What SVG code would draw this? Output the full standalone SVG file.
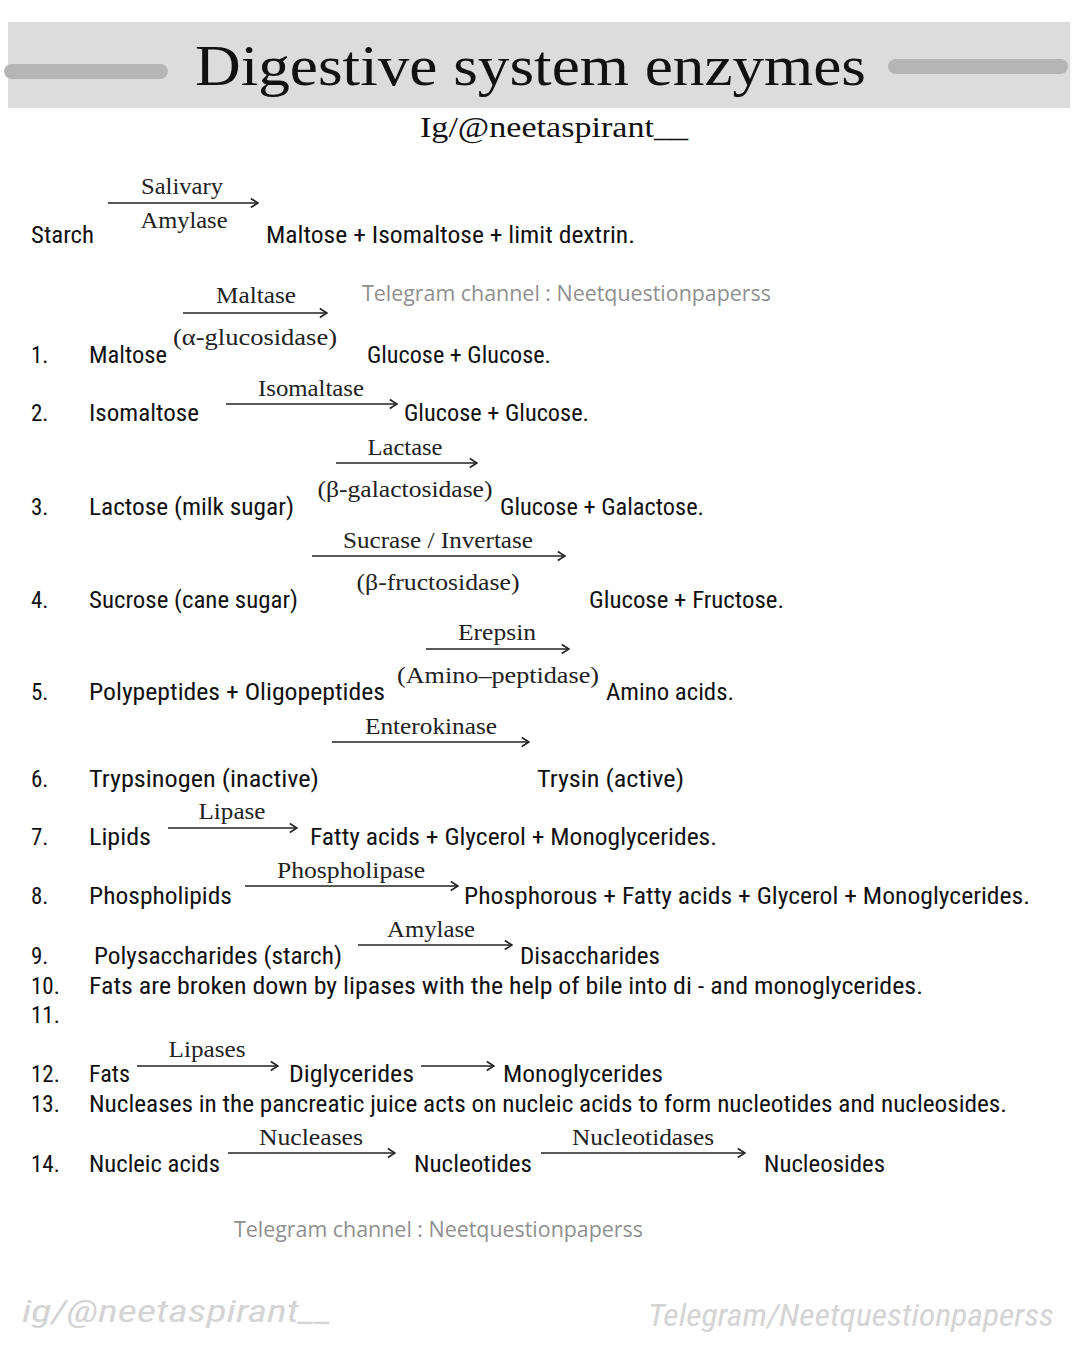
<svg xmlns="http://www.w3.org/2000/svg" width="1080" height="1350" viewBox="0 0 1080 1350">
<style>
.b{font-family:"Liberation Sans Narrow","Roboto Condensed","Liberation Sans",sans-serif;font-size:23px;fill:#111}
.s{font-family:"Liberation Serif","Times New Roman",serif;font-size:24px;fill:#222;text-anchor:middle}
.g{font-family:"Open Sans","Liberation Sans",sans-serif;font-size:21px;fill:#8f8f8f}
.w{font-family:"Liberation Sans Narrow","Roboto Condensed","Liberation Sans",sans-serif;font-style:italic;font-size:32px;fill:#d4d4d4}
.a{stroke:#222;stroke-width:1.7;fill:none;marker-end:url(#ah)}
</style>
<defs>
<marker id="ah" viewBox="0 0 10 12" refX="9" refY="6" markerWidth="9" markerHeight="12" markerUnits="userSpaceOnUse" orient="auto">
<path d="M1,1 L9,6 L1,11" fill="none" stroke="#222" stroke-width="1.8"/>
</marker>
</defs>
<rect width="1080" height="1350" fill="#fff"/>
<g id="header">
<rect x="8" y="22" width="1062" height="86" fill="#dcdcdc"/>
<rect x="4" y="64" width="164" height="15" rx="7.5" fill="#b5b5b5"/>
<rect x="888" y="59" width="180" height="15" rx="7.5" fill="#b5b5b5"/>
<text x="195" y="85" font-family="Liberation Serif,serif" font-size="56" fill="#111" textLength="671" lengthAdjust="spacingAndGlyphs">Digestive system enzymes</text>
<text x="420" y="137" font-family="Liberation Serif,serif" font-size="29" fill="#111" textLength="268" lengthAdjust="spacingAndGlyphs">Ig/@neetaspirant__</text>
</g>
<g id="connectors">
<line class="a" x1="108" y1="203" x2="258" y2="203"/>
<line class="a" x1="183" y1="313" x2="327" y2="313"/>
<line class="a" x1="226" y1="404" x2="397" y2="404"/>
<line class="a" x1="336" y1="463" x2="477" y2="463"/>
<line class="a" x1="312" y1="556" x2="565" y2="556"/>
<line class="a" x1="426" y1="649" x2="569" y2="649"/>
<line class="a" x1="332" y1="742" x2="529" y2="742"/>
<line class="a" x1="168" y1="828" x2="297" y2="828"/>
<line class="a" x1="245" y1="886" x2="458" y2="886"/>
<line class="a" x1="358" y1="945" x2="512" y2="945"/>
<line class="a" x1="137" y1="1066" x2="278" y2="1066"/>
<line class="a" x1="421" y1="1066" x2="494" y2="1066"/>
<line class="a" x1="228" y1="1153" x2="395" y2="1153"/>
<line class="a" x1="541" y1="1153" x2="745" y2="1153"/>
</g>
<g id="starch">
<text class="b" x="31" y="243" textLength="63" lengthAdjust="spacingAndGlyphs">Starch</text>
<text class="s" x="182" y="194" textLength="82" lengthAdjust="spacingAndGlyphs">Salivary</text>
<text class="s" x="184" y="228" textLength="87" lengthAdjust="spacingAndGlyphs">Amylase</text>
<text class="b" x="266" y="243" textLength="369" lengthAdjust="spacingAndGlyphs">Maltose + Isomaltose + limit dextrin.</text>
</g>
<text class="g" x="362" y="301" textLength="409" lengthAdjust="spacingAndGlyphs">Telegram channel : Neetquestionpaperss</text>
<g id="r1">
<text class="b" x="31" y="363">1.</text>
<text class="b" x="89" y="363" textLength="78" lengthAdjust="spacingAndGlyphs">Maltose</text>
<text class="s" x="256" y="303" textLength="80" lengthAdjust="spacingAndGlyphs">Maltase</text>
<text class="s" x="255" y="345" textLength="164" lengthAdjust="spacingAndGlyphs">(α-glucosidase)</text>
<text class="b" x="367" y="363" textLength="184" lengthAdjust="spacingAndGlyphs">Glucose + Glucose.</text>
</g>
<g id="r2">
<text class="b" x="31" y="421">2.</text>
<text class="b" x="89" y="421" textLength="110" lengthAdjust="spacingAndGlyphs">Isomaltose</text>
<text class="s" x="311" y="396" textLength="106" lengthAdjust="spacingAndGlyphs">Isomaltase</text>
<text class="b" x="404" y="421" textLength="185" lengthAdjust="spacingAndGlyphs">Glucose + Glucose.</text>
</g>
<g id="r3">
<text class="b" x="31" y="515">3.</text>
<text class="b" x="89" y="515" textLength="205" lengthAdjust="spacingAndGlyphs">Lactose (milk sugar)</text>
<text class="s" x="405" y="455" textLength="75" lengthAdjust="spacingAndGlyphs">Lactase</text>
<text class="s" x="405" y="497" textLength="175" lengthAdjust="spacingAndGlyphs">(β-galactosidase)</text>
<text class="b" x="500" y="515" textLength="204" lengthAdjust="spacingAndGlyphs">Glucose + Galactose.</text>
</g>
<g id="r4">
<text class="b" x="31" y="608">4.</text>
<text class="b" x="89" y="608" textLength="209" lengthAdjust="spacingAndGlyphs">Sucrose (cane sugar)</text>
<text class="s" x="438" y="548" textLength="190" lengthAdjust="spacingAndGlyphs">Sucrase / Invertase</text>
<text class="s" x="438" y="590" textLength="163" lengthAdjust="spacingAndGlyphs">(β-fructosidase)</text>
<text class="b" x="589" y="608" textLength="195" lengthAdjust="spacingAndGlyphs">Glucose + Fructose.</text>
</g>
<g id="r5">
<text class="b" x="31" y="700">5.</text>
<text class="b" x="89" y="700" textLength="296" lengthAdjust="spacingAndGlyphs">Polypeptides + Oligopeptides</text>
<text class="s" x="497" y="640" textLength="78" lengthAdjust="spacingAndGlyphs">Erepsin</text>
<text class="s" x="498" y="683" textLength="202" lengthAdjust="spacingAndGlyphs">(Amino–peptidase)</text>
<text class="b" x="606" y="700" textLength="128" lengthAdjust="spacingAndGlyphs">Amino acids.</text>
</g>
<g id="r6">
<text class="b" x="31" y="787">6.</text>
<text class="b" x="89" y="787" textLength="230" lengthAdjust="spacingAndGlyphs">Trypsinogen (inactive)</text>
<text class="s" x="431" y="734" textLength="132" lengthAdjust="spacingAndGlyphs">Enterokinase</text>
<text class="b" x="537" y="787" textLength="147" lengthAdjust="spacingAndGlyphs">Trysin (active)</text>
</g>
<g id="r7">
<text class="b" x="31" y="845">7.</text>
<text class="b" x="89" y="845" textLength="62" lengthAdjust="spacingAndGlyphs">Lipids</text>
<text class="s" x="232" y="819" textLength="67" lengthAdjust="spacingAndGlyphs">Lipase</text>
<text class="b" x="310" y="845" textLength="407" lengthAdjust="spacingAndGlyphs">Fatty acids + Glycerol + Monoglycerides.</text>
</g>
<g id="r8">
<text class="b" x="31" y="904">8.</text>
<text class="b" x="89" y="904" textLength="143" lengthAdjust="spacingAndGlyphs">Phospholipids</text>
<text class="s" x="351" y="878" textLength="148" lengthAdjust="spacingAndGlyphs">Phospholipase</text>
<text class="b" x="464" y="904" textLength="566" lengthAdjust="spacingAndGlyphs">Phosphorous + Fatty acids + Glycerol + Monoglycerides.</text>
</g>
<g id="r9">
<text class="b" x="31" y="964">9.</text>
<text class="b" x="94" y="964" textLength="248" lengthAdjust="spacingAndGlyphs">Polysaccharides (starch)</text>
<text class="s" x="431" y="937" textLength="88" lengthAdjust="spacingAndGlyphs">Amylase</text>
<text class="b" x="520" y="964" textLength="140" lengthAdjust="spacingAndGlyphs">Disaccharides</text>
</g>
<g id="r10">
<text class="b" x="31" y="994">10.</text>
<text class="b" x="89" y="994" textLength="834" lengthAdjust="spacingAndGlyphs">Fats are broken down by lipases with the help of bile into di - and monoglycerides.</text>
</g>
<g id="r11">
<text class="b" x="31" y="1023">11.</text>
</g>
<g id="r12">
<text class="b" x="31" y="1082">12.</text>
<text class="b" x="89" y="1082" textLength="41" lengthAdjust="spacingAndGlyphs">Fats</text>
<text class="s" x="207" y="1057" textLength="77" lengthAdjust="spacingAndGlyphs">Lipases</text>
<text class="b" x="289" y="1082" textLength="125" lengthAdjust="spacingAndGlyphs">Diglycerides</text>
<text class="b" x="503" y="1082" textLength="160" lengthAdjust="spacingAndGlyphs">Monoglycerides</text>
</g>
<g id="r13">
<text class="b" x="31" y="1112">13.</text>
<text class="b" x="89" y="1112" textLength="918" lengthAdjust="spacingAndGlyphs">Nucleases in the pancreatic juice acts on nucleic acids to form nucleotides and nucleosides.</text>
</g>
<g id="r14">
<text class="b" x="31" y="1172">14.</text>
<text class="b" x="89" y="1172" textLength="131" lengthAdjust="spacingAndGlyphs">Nucleic acids</text>
<text class="s" x="311" y="1145" textLength="104" lengthAdjust="spacingAndGlyphs">Nucleases</text>
<text class="b" x="414" y="1172" textLength="118" lengthAdjust="spacingAndGlyphs">Nucleotides</text>
<text class="s" x="643" y="1145" textLength="142" lengthAdjust="spacingAndGlyphs">Nucleotidases</text>
<text class="b" x="764" y="1172" textLength="121" lengthAdjust="spacingAndGlyphs">Nucleosides</text>
</g>
<text class="g" x="234" y="1237" textLength="409" lengthAdjust="spacingAndGlyphs">Telegram channel : Neetquestionpaperss</text>
<text class="w" x="22" y="1322" textLength="310" lengthAdjust="spacingAndGlyphs">ig/@neetaspirant__</text>
<text class="w" x="648" y="1326" textLength="406" lengthAdjust="spacingAndGlyphs">Telegram/Neetquestionpaperss</text>
</svg>
